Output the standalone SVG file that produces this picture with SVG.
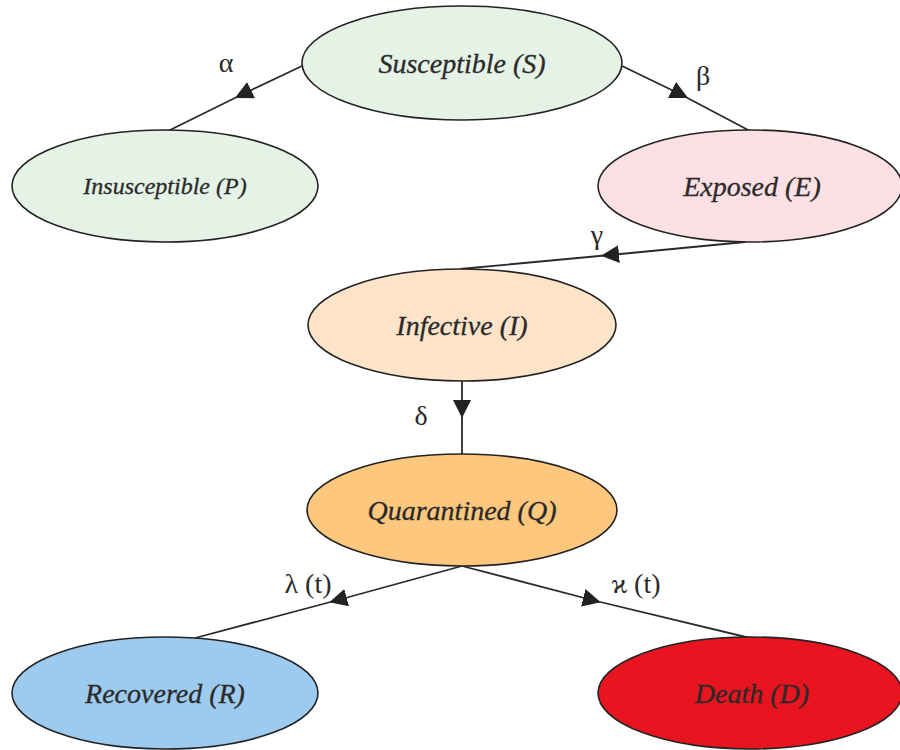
<svg xmlns="http://www.w3.org/2000/svg" width="900" height="750" viewBox="0 0 900 750">
<defs>
<marker id="arr" viewBox="0 0 10 10" refX="5" refY="5" markerWidth="18" markerHeight="18" markerUnits="userSpaceOnUse" orient="auto">
<path d="M0,0 L10,5 L0,10 Z" fill="#222"/>
</marker>
</defs>
<style>
.node ellipse{stroke:#222;stroke-width:1.6}
.node text{font-family:"Liberation Serif","Times New Roman","DejaVu Serif",serif;font-style:italic;fill:#2a2a2a;text-anchor:middle;dominant-baseline:central;font-size:28px;stroke:#2a2a2a;stroke-width:0.3}
.edge{fill:none;stroke:#2a2a2a;stroke-width:1.8;marker-mid:url(#arr)}
.lbl{font-family:"Liberation Serif","Times New Roman","DejaVu Serif",serif;fill:#2a2a2a;font-size:28px;text-anchor:middle;dominant-baseline:central}
</style>
<rect width="900" height="750" fill="#fff"/>
<g id="connectors">
<path class="edge" d="M302,66 L243,94 L168,131"/>
<path class="edge" d="M622,66 L680,94 L750,131"/>
<path class="edge" d="M745,242 L610,255 L460,269"/>
<path class="edge" d="M462,381 L462,409 L462,454"/>
<path class="edge" d="M462,566 L338,600 L195,638"/>
<path class="edge" d="M462,566 L592,600 L750,638"/>
</g>
<g id="labels">
<text class="lbl" x="226" y="62">α</text>
<text class="lbl" x="703" y="75">β</text>
<text class="lbl" x="597" y="234">γ</text>
<text class="lbl" x="421" y="415">δ</text>
<text class="lbl" x="308" y="583">λ (t)</text>
<text class="lbl" x="636" y="583">ϰ (t)</text>
</g>
<g id="node-S" class="node"><ellipse cx="462" cy="63" rx="160" ry="57" fill="#e5f2e6"/><text x="462" y="63">Susceptible (S)</text></g>
<g id="node-P" class="node"><ellipse cx="165" cy="186" rx="153" ry="56" fill="#e5f2e6"/><text x="165" y="186" style="font-size:24px">Insusceptible (P)</text></g>
<g id="node-E" class="node"><ellipse cx="750" cy="186" rx="152" ry="56" fill="#fde0e4"/><text x="752" y="186">Exposed (E)</text></g>
<g id="node-I" class="node"><ellipse cx="462" cy="325" rx="154" ry="56" fill="#fde3c8"/><text x="462" y="325">Infective (I)</text></g>
<g id="node-Q" class="node"><ellipse cx="462" cy="510" rx="155" ry="56" fill="#fdc77d"/><text x="462" y="510">Quarantined (Q)</text></g>
<g id="node-R" class="node"><ellipse cx="165" cy="693" rx="153" ry="56" fill="#9dcbef"/><text x="165" y="693">Recovered (R)</text></g>
<g id="node-D" class="node"><ellipse cx="750" cy="693" rx="152" ry="56" fill="#e8141f"/><text x="752" y="693">Death (D)</text></g>
</svg>
